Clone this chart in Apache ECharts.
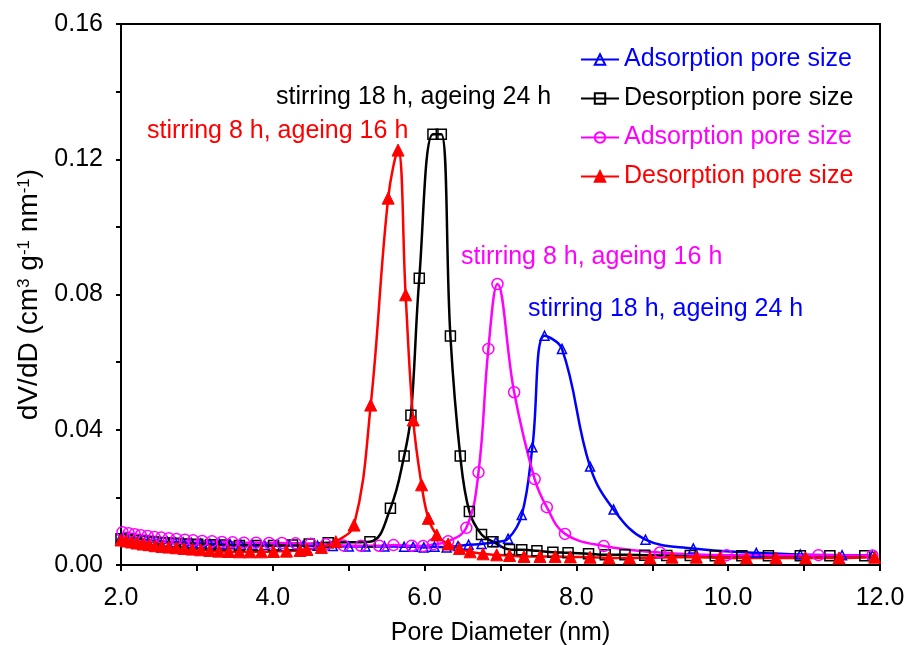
<!DOCTYPE html>
<html>
<head>
<meta charset="utf-8">
<script src="https://cdn.jsdelivr.net/npm/echarts@6/dist/echarts.min.js"></script>
<style>
html,body{margin:0;padding:0;background:#fff;}
#chart{width:911px;height:645px;}
</style>
</head>
<body>
<div id="chart"></div>
<script>
// ---- Data ----
// Adsorption pore size, stirring 18 h, ageing 24 h (blue, open triangles)
const blueX = [2.00,2.08,2.16,2.24,2.33,2.42,2.51,2.61,2.71,2.82,2.93,3.05,3.17,3.30,3.44,3.58,3.73,3.89,4.05,4.22,4.40,4.59,4.79,5.00,5.22,5.47,5.73,5.85,5.99,6.13,6.29,6.44,6.58,6.75,6.94,7.10,7.28,7.42,7.58,7.81,8.18,8.49,8.91,9.54,10.37,10.95,11.50,11.90];
const blueY = [0.0082,0.0080,0.0078,0.0076,0.0074,0.0072,0.0071,0.0069,0.0068,0.0067,0.0065,0.0064,0.0063,0.0062,0.0061,0.0060,0.0060,0.0059,0.0058,0.0058,0.0057,0.0057,0.0056,0.0055,0.0055,0.0055,0.0054,0.0054,0.0052,0.0054,0.0052,0.0056,0.0060,0.0062,0.0068,0.0078,0.0148,0.0348,0.0678,0.0639,0.0291,0.0164,0.0075,0.0049,0.0036,0.0031,0.0029,0.0028];

// Desorption pore size, stirring 18 h, ageing 24 h (black, open squares)
const blackX = [2.00,2.10,2.20,2.31,2.43,2.56,2.70,2.85,3.01,3.18,3.36,3.56,3.78,4.01,4.26,4.48,4.73,5.28,5.55,5.73,5.82,5.93,6.11,6.22,6.34,6.47,6.59,6.75,6.90,7.12,7.28,7.48,7.69,7.89,8.16,8.38,8.64,8.90,9.19,9.50,9.83,10.18,10.53,10.95,11.34,11.80];
const blackY = [0.0078,0.0075,0.0072,0.0070,0.0068,0.0066,0.0064,0.0062,0.0061,0.0060,0.0059,0.0058,0.0058,0.0058,0.0059,0.0062,0.0066,0.0069,0.0168,0.0322,0.0443,0.0848,0.1274,0.1274,0.0677,0.0322,0.0158,0.0090,0.0069,0.0046,0.0045,0.0042,0.0038,0.0036,0.0033,0.0030,0.0030,0.0029,0.0028,0.0028,0.0027,0.0027,0.0027,0.0027,0.0027,0.0027];

// Adsorption pore size, stirring 8 h, ageing 16 h (magenta, open circles)
const magentaX = [2.02,2.10,2.18,2.26,2.35,2.44,2.53,2.63,2.73,2.84,2.95,3.07,3.20,3.33,3.47,3.62,3.78,3.95,4.12,4.30,4.50,4.70,4.93,5.16,5.40,5.59,5.83,5.98,6.11,6.31,6.55,6.71,6.84,6.96,7.18,7.45,7.61,7.85,8.36,9.10,9.98,11.19,11.90];
const magentaY = [0.0097,0.0094,0.0091,0.0088,0.0086,0.0083,0.0081,0.0079,0.0077,0.0075,0.0073,0.0071,0.0070,0.0068,0.0067,0.0066,0.0066,0.0065,0.0065,0.0064,0.0063,0.0061,0.0058,0.0057,0.0057,0.0059,0.0057,0.0056,0.0061,0.0070,0.0110,0.0274,0.0639,0.0831,0.0511,0.0254,0.0171,0.0092,0.0056,0.0037,0.0029,0.0029,0.0028];

// Desorption pore size, stirring 8 h, ageing 16 h (red, filled triangles)
const redX = [2.00,2.07,2.14,2.21,2.29,2.37,2.45,2.54,2.63,2.73,2.83,2.94,3.05,3.17,3.29,3.42,3.56,3.70,3.85,4.01,4.18,4.36,4.45,4.64,4.83,5.07,5.29,5.52,5.65,5.75,5.85,5.96,6.05,6.16,6.31,6.46,6.60,6.77,6.95,7.12,7.31,7.52,7.72,7.92,8.18,8.43,8.70,8.97,9.26,9.58,9.89,10.24,10.63,11.02,11.46,11.93];
const redY = [0.0074,0.0071,0.0068,0.0065,0.0062,0.0060,0.0057,0.0055,0.0053,0.0051,0.0049,0.0047,0.0045,0.0043,0.0041,0.0040,0.0039,0.0039,0.0039,0.0040,0.0041,0.0043,0.0046,0.0052,0.0069,0.0118,0.0473,0.1085,0.1227,0.0799,0.0429,0.0237,0.0138,0.0089,0.0062,0.0049,0.0039,0.0033,0.0030,0.0028,0.0025,0.0025,0.0025,0.0024,0.0023,0.0021,0.0021,0.0021,0.0023,0.0023,0.0021,0.0021,0.0021,0.0021,0.0021,0.0023];

const seriesNames = ['Adsorption pore size', 'Desorption pore size', 'Adsorption pore size ', 'Desorption pore size '];
const annotationTexts = ['stirring 18 h, ageing 24 h', 'stirring 8 h, ageing 16 h', 'stirring 8 h, ageing 16 h', 'stirring 18 h, ageing 24 h'];
const xTicks = { min: 2, max: 12, interval: 2 };
const yTicks = { min: 0, max: 0.16, interval: 0.04 };

// ---- Chart ----
const FONT = '"Liberation Sans", Arial, Helvetica, sans-serif';
const BLUE = '#0000FF', BLACK = '#000000', MAGENTA = '#FF00FF', RED = '#FF0000';

function zip(xs, ys) { return xs.map((x, i) => [x, ys[i]]); }

function mkSeries(name, xs, ys, color, symbol, size, filled) {
  return {
    name: name,
    type: 'line',
    smooth: 0.4,
    data: zip(xs, ys),
    symbol: symbol,
    symbolSize: size,
    showAllSymbol: true,
    lineStyle: { color: color, width: 2.5 },
    itemStyle: filled
      ? { color: color, borderColor: color, borderWidth: 1 }
      : { color: 'rgba(255,255,255,0)', borderColor: color, borderWidth: 1.5 },
    emphasis: { disabled: true },
    animation: false
  };
}

const chart = echarts.init(document.getElementById('chart'), null, { renderer: 'canvas' });

const option = {
  backgroundColor: '#ffffff',
  animation: false,
  grid: {
    left: 121, right: 31, top: 24, bottom: 80,
    outerBoundsMode: 'none',
    containLabel: false,
    show: true, borderColor: '#000', borderWidth: 2, backgroundColor: 'transparent'
  },
  legend: {
    orient: 'vertical',
    left: 580, top: 47,
    padding: 0,
    itemGap: 14,
    itemWidth: 38,
    itemHeight: 13,
    textStyle: { fontSize: 25, fontFamily: FONT },
    data: [
      { name: seriesNames[0], textStyle: { color: BLUE } },
      { name: seriesNames[1], textStyle: { color: BLACK } },
      { name: seriesNames[2], textStyle: { color: MAGENTA } },
      { name: seriesNames[3], textStyle: { color: RED } }
    ]
  },
  xAxis: {
    type: 'value',
    min: xTicks.min, max: xTicks.max, interval: xTicks.interval,
    name: 'Pore Diameter (nm)',
    nameLocation: 'middle',
    nameGap: 56,
    nameTextStyle: { fontSize: 25, fontFamily: FONT, color: '#000' },
    axisLine: { lineStyle: { color: '#000', width: 2 } },
    axisTick: { inside: false, length: 6, lineStyle: { color: '#000', width: 2 } },
    minorTick: { show: true, splitNumber: 2, length: 6, lineStyle: { color: '#000', width: 2 } },
    axisLabel: { fontSize: 25, fontFamily: FONT, color: '#000', margin: 21, formatter: v => v.toFixed(1) },
    splitLine: { show: false }
  },
  yAxis: {
    type: 'value',
    min: yTicks.min, max: yTicks.max, interval: yTicks.interval,
    name: 'dV/dD (cm{sup|3} g{sup|-1} nm{sup|-1})',
    nameLocation: 'middle',
    nameGap: 70,
    nameTextStyle: {
      fontSize: 28, fontFamily: FONT, color: '#000',
      rich: { sup: { fontSize: 17, fontFamily: FONT, color: '#000', verticalAlign: 'top' } }
    },
    axisLine: { lineStyle: { color: '#000', width: 2 } },
    axisTick: { inside: false, length: 5, lineStyle: { color: '#000', width: 2 } },
    minorTick: { show: true, splitNumber: 2, length: 5, lineStyle: { color: '#000', width: 2 } },
    axisLabel: { fontSize: 25, fontFamily: FONT, color: '#000', margin: 18, formatter: v => v.toFixed(2) },
    splitLine: { show: false }
  },
  graphic: [
    { type: 'text', x: 276, y: 97, style: { text: annotationTexts[0], fill: BLACK, fontSize: 25, fontFamily: FONT, verticalAlign: 'middle' } },
    { type: 'text', x: 147, y: 131, style: { text: annotationTexts[1], fill: RED, fontSize: 25, fontFamily: FONT, verticalAlign: 'middle' } },
    { type: 'text', x: 461, y: 257, style: { text: annotationTexts[2], fill: MAGENTA, fontSize: 25, fontFamily: FONT, verticalAlign: 'middle' } },
    { type: 'text', x: 528, y: 309, style: { text: annotationTexts[3], fill: BLUE, fontSize: 25, fontFamily: FONT, verticalAlign: 'middle' } }
  ],
  series: [
    mkSeries(seriesNames[0], blueX, blueY, BLUE, 'triangle', 9, false),
    mkSeries(seriesNames[1], blackX, blackY, BLACK, 'rect', 10, false),
    mkSeries(seriesNames[2], magentaX, magentaY, MAGENTA, 'circle', 11, false),
    mkSeries(seriesNames[3], redX, redY, RED, 'triangle', 12, true)
  ]
};

chart.setOption(option);
</script>
</body>
</html>
